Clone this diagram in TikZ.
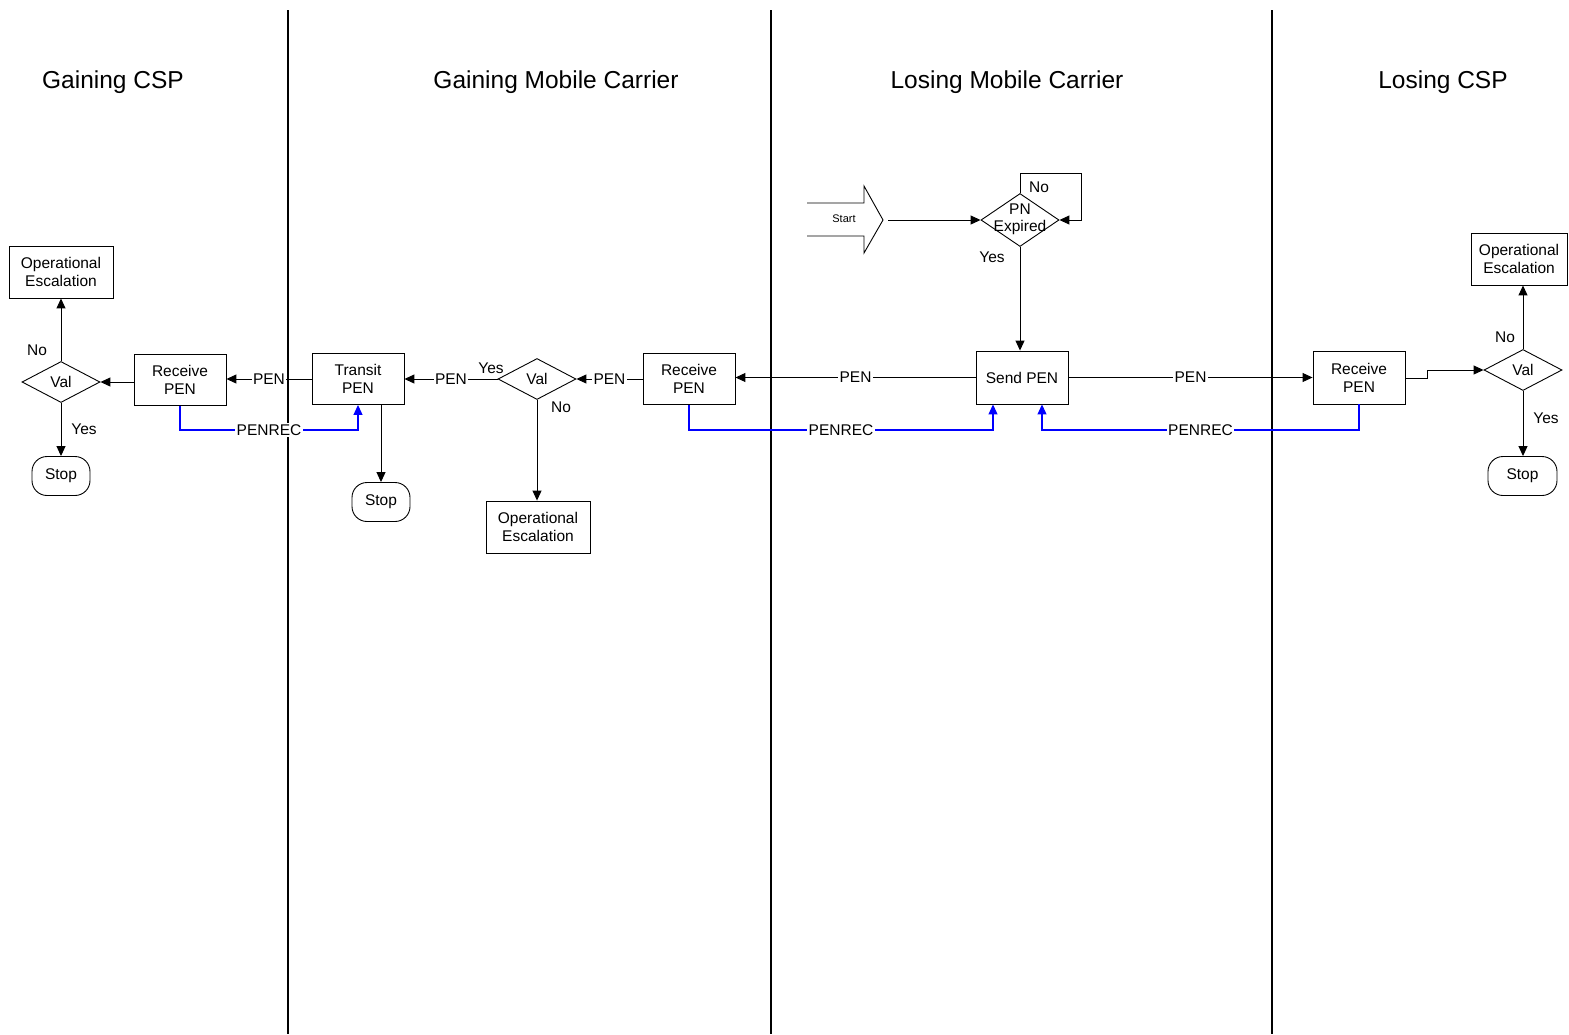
\documentclass[tikz,border=0pt]{standalone}
\usepackage{fontspec}
\setmainfont{Liberation Sans}
\usetikzlibrary{shapes.geometric,arrows.meta}
\begin{document}
\begin{tikzpicture}[x=1pt,y=-1pt,
  txt/.style={font=\fontsize{15.5}{18}\selectfont, inner sep=1pt},
  box/.style={txt, draw, align=center, minimum width=92pt, minimum height=51pt, inner sep=0pt, line width=0.9pt},
  esc/.style={box, minimum width=104pt, minimum height=52pt},
  stopbox/.style={txt, draw, rounded corners=15pt, minimum width=58pt, minimum height=39pt, inner sep=0pt, line width=0.9pt},
  dia/.style={txt, draw, diamond, minimum width=78pt, minimum height=41pt, inner sep=0pt, line width=0.9pt},
  lbl/.style={txt, fill=white, text=black, inner sep=1.5pt},
  title/.style={font=\fontsize{24.5}{28}\selectfont},
  arr/.style={line width=1pt, -{Triangle[length=10pt,width=9pt]}},
  barr/.style={line width=1.1pt, blue, -{Triangle[length=10pt,width=9pt]}},
  lane/.style={line width=1.3pt}
]
\useasboundingbox (0,0) rectangle (1569,1034);
% lanes
\draw[lane] (288,10) -- (288,1034);
\draw[lane] (771,10) -- (771,1034);
\draw[lane] (1272,10) -- (1272,1034);
% titles
\node[title] (t1) at (113,82) {Gaining CSP};
\node[title] (t2) at (556,82) {Gaining Mobile Carrier};
\node[title] (t3) at (1007,82) {Losing Mobile Carrier};
\node[title] (t4) at (1443,82) {Losing CSP};

% Gaining CSP
\node[esc] (esc1) at (61,272) {Operational\\Escalation};
\node[dia] (val1) at (61,382) {Val};
\node[box] (rp1) at (180,380) {Receive\\PEN};
\node[stopbox] (stop1) at (61,476) {Stop};
\node[txt] (no1) at (37,350) {No};
\node[txt] (yes1) at (84,429) {Yes};

% Gaining Mobile Carrier
\node[box] (tp1) at (358,379) {Transit\\PEN};
\node[stopbox] (stop2) at (381,502) {Stop};
\node[dia] (val2) at (537,379) {Val};
\node[esc] (esc2) at (538,527) {Operational\\Escalation};
\node[txt] (yes2) at (491,368) {Yes};
\node[txt] (no2) at (561,407) {No};
\node[box] (rp2) at (689,379) {Receive\\PEN};

% Losing Mobile Carrier
\node[box, minimum height=53pt] (sp) at (1022,377.5) {Send PEN};
\node[draw, diamond, minimum width=78pt, minimum height=53pt, inner sep=0pt, line width=0.9pt] (pn) at (1020,220) {};
\node[txt, align=center, font=\fontsize{15.5}{17}\selectfont] (pntxt) at (1020,219) {PN\\Expired};
\node[txt] (no3) at (1039,187) {No};
\node[txt] (yes3) at (992,257) {Yes};
\coordinate (loopc) at (1081,173);
\draw[line width=0.9pt] (807,203) -- (864,203) -- (864,186) -- (883,220) -- (864,253) -- (864,236) -- (807,236);
\node[font=\fontsize{11}{13}\selectfont] (starttxt) at (844,219) {Start};
\coordinate (s0) at (888,220);

% Losing CSP
\node[box, minimum height=53pt] (rp3) at (1359,377.5) {Receive\\PEN};
\node[dia] (val3) at (1523,370) {Val};
\node[box, minimum width=96pt, minimum height=52pt] (esc3) at (1519,259) {Operational\\Escalation};
\node[stopbox, minimum width=69pt] (stop3) at (1522.5,476) {Stop};
\node[txt] (no4) at (1505,337) {No};
\node[txt] (yes4) at (1546,418) {Yes};
\coordinate (j1) at (1427,378);
\coordinate (j2) at (1427,370);

% connectors
\draw[arr] (tp1.west) -- node[lbl] {PEN} (tp1.west -| rp1.east);
\draw[arr] (rp1.west |- val1.east) -- (val1.east);
\draw[arr] (val1.north) -- (esc1.south);
\draw[arr] (val1.south) -- (stop1.north);
\draw[barr] (rp1.south) -- (rp1.south |- 0,430) -- node[lbl] {PENREC} (tp1.south |- 0,430) -- (tp1.south);

\draw[arr] (val2.west) -- node[lbl] {PEN} (tp1.east);
\draw[arr] (rp2.west) -- node[lbl] {PEN} (val2.east);
\draw[arr] (val2.south) -- (val2.south |- esc2.north);
\draw[arr] (stop2.north |- tp1.south) -- (stop2.north);

\draw[arr] (sp.west) -- node[lbl] {PEN} (sp.west -| rp2.east);
\draw[arr] (sp.east) -- node[lbl] {PEN} (sp.east -| rp3.west);
\draw[barr] (rp2.south) -- (rp2.south |- 0,430) -- node[lbl] {PENREC} (993,430) -- (993,0 |- sp.south);
\draw[barr] (rp3.south) -- (rp3.south |- 0,430) -- node[lbl] {PENREC} (1042,430) -- (1042,0 |- sp.south);

\draw[arr] (s0) -- (pn.west);
\draw[arr] (pn.north) |- (loopc) |- (pn.east);
\draw[arr] (pn.south) -- (pn.south |- sp.north);

\draw[arr] (rp3.east |- j1) -- (j1) -- (j2) -- (val3.west);
\draw[arr] (val3.north) -- (val3.north |- esc3.south);
\draw[arr] (val3.south) -- (val3.south |- stop3.north);
\end{tikzpicture}
\end{document}
